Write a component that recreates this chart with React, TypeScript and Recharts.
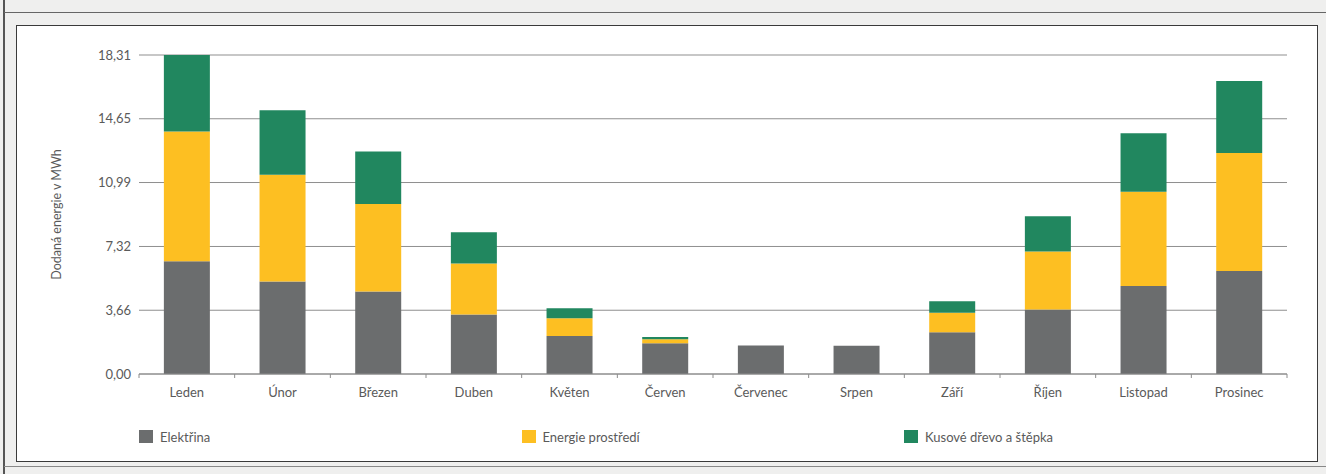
import React from 'react';
import { BarChart, Bar, XAxis, YAxis, CartesianGrid, Legend } from 'recharts';

const months = ['Leden', 'Únor', 'Březen', 'Duben', 'Květen', 'Červen', 'Červenec', 'Srpen', 'Září', 'Říjen', 'Listopad', 'Prosinec'];
const elektrina = [6.47, 5.31, 4.74, 3.41, 2.18, 1.76, 1.63, 1.62, 2.39, 3.7, 5.05, 5.91];
const prostredi = [7.45, 6.13, 5.02, 2.93, 1.02, 0.23, 0, 0, 1.12, 3.33, 5.41, 6.78];
const drevo = [4.39, 3.7, 3.01, 1.79, 0.58, 0.13, 0, 0, 0.67, 2.03, 3.36, 4.13];
const yTicks = [0, 3.66, 7.32, 10.99, 14.65, 18.31];

const seriesNames = ['Elektřina', 'Energie prostředí', 'Kusové dřevo a štěpka'];
const colors = ['#6b6d6e', '#fdbf22', '#21875f'];

const data = months.map((m, i) => ({
  month: m,
  elektrina: elektrina[i],
  prostredi: prostredi[i],
  drevo: drevo[i],
}));

const W = 1302;
const H = 437;
// bottom = 89 minus x axis height (30) minus legend height (~17)
const margin = { top: 29, right: 32, left: 0, bottom: 42 };
const yAxisW = 122;
const plotW = W - margin.left - margin.right - yAxisW;
const halfBand = plotW / months.length / 2;

const font = 'Lato, "Open Sans", sans-serif';
const textColor = '#5a5a5a';

const MonthTick = (props: any) => {
  const { x, y, payload, index } = props;
  return (
    <g>
      <line x1={x - halfBand} y1={y} x2={x - halfBand} y2={y + 4} stroke="#8c8c8c" />
      {index === months.length - 1 && (
        <line x1={x + halfBand} y1={y} x2={x + halfBand} y2={y + 4} stroke="#8c8c8c" />
      )}
      <text x={x} y={y + 23} textAnchor="middle" fill={textColor} fontSize={13} fontFamily={font}>
        {payload.value}
      </text>
    </g>
  );
};

const LegendRow = () => (
  <div style={{ display: 'flex', paddingLeft: 122, fontFamily: font, fontSize: 13, color: textColor, height: 17 }}>
    {seriesNames.map((n, i) => (
      <div key={n} style={{ width: 382.5, display: 'flex', alignItems: 'center' }}>
        <span style={{ display: 'inline-block', width: 14, height: 13, background: colors[i], marginRight: 7 }} />
        {n}
      </div>
    ))}
  </div>
);

export default function App() {
  return (
    <div style={{ position: 'absolute', left: 0, top: 0, width: 1326, height: 474, background: '#efefee', overflow: 'hidden' }}>
      <div style={{ position: 'absolute', left: 3, top: 0, width: 2, height: 474, background: '#555' }} />
      <div style={{ position: 'absolute', left: 4, top: 12, width: 1322, height: 1, background: '#666' }} />
      <div style={{ position: 'absolute', left: 4, top: 466, width: 1322, height: 1, background: '#888' }} />
      <div style={{ position: 'absolute', left: 16, top: 25, width: W, height: H, background: '#ffffff', border: '1px solid #3a3a3a', boxSizing: 'border-box' }}>
        <BarChart width={W} height={H} data={data} margin={margin} barCategoryGap="26%">
          <CartesianGrid vertical={false} stroke="#8f8f8f" />
          <XAxis
            dataKey="month"
            height={30}
            tick={<MonthTick />}
            tickLine={false}
            tickSize={0}
            tickMargin={0}
            axisLine={{ stroke: '#8c8c8c' }}
            interval={0}
          />
          <YAxis
            width={yAxisW}
            domain={[0, 18.31]}
            ticks={yTicks}
            axisLine={false}
            tickLine={false}
            tickFormatter={(v: number) => v.toFixed(2).replace('.', ',')}
            tick={{ fill: textColor, fontSize: 13, fontFamily: font }}
            label={{
              value: 'Dodaná energie v MWh',
              angle: -90,
              position: 'insideLeft',
              offset: 40,
              style: { fill: textColor, fontSize: 12.5, fontFamily: font, textAnchor: 'middle' },
            }}
          />
          <Legend verticalAlign="bottom" wrapperStyle={{ left: 0, bottom: 18 }} content={<LegendRow />} />
          <Bar dataKey="elektrina" stackId="a" fill={colors[0]} name={seriesNames[0]} isAnimationActive={false} />
          <Bar dataKey="prostredi" stackId="a" fill={colors[1]} name={seriesNames[1]} isAnimationActive={false} />
          <Bar dataKey="drevo" stackId="a" fill={colors[2]} name={seriesNames[2]} isAnimationActive={false} />
        </BarChart>
      </div>
    </div>
  );
}
